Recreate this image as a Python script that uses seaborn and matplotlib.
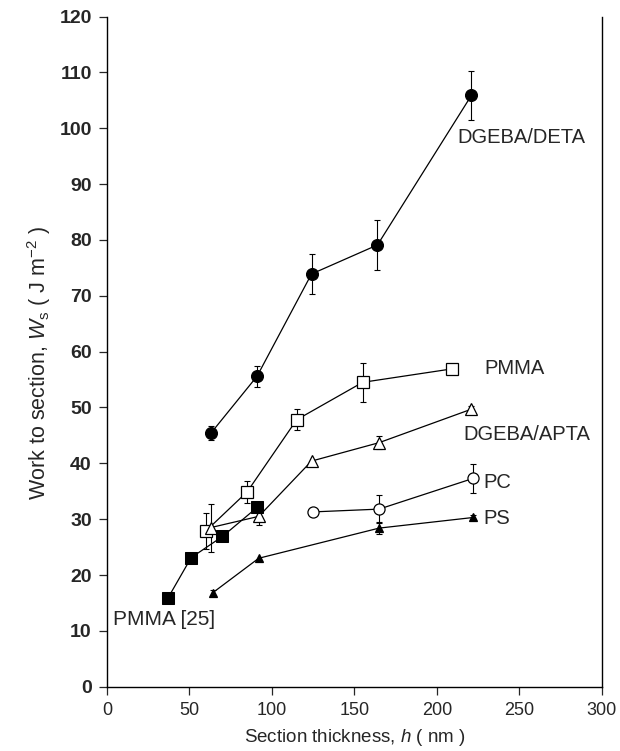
import matplotlib
matplotlib.use("Agg")
import matplotlib.pyplot as plt
import seaborn as sns
import numpy as np

# DGEBA/DETA (filled circles)
deta_x = [63, 91, 124, 164, 221]
deta_y = [45.4, 55.6, 73.9, 79.1, 105.9]
deta_err = [1.3, 1.85, 3.6, 4.5, 4.4]

# PMMA (open squares)
pmma_x = [60, 85, 115, 155, 209]
pmma_y = [27.9, 34.9, 47.8, 54.5, 56.9]
pmma_err = [3.2, 2.0, 1.9, 3.55, 0.0]

# DGEBA/APTA (open triangles)
apta_x = [63, 92, 124, 165, 221]
apta_y = [28.5, 30.5, 40.4, 43.7, 49.7]
apta_err = [4.3, 1.6, 0.0, 1.2, 0.6]

# PC (open circles)
pc_x = [125, 165, 222]
pc_y = [31.3, 31.8, 37.3]
pc_err = [0.0, 2.55, 2.65]

# PS (filled triangles)
ps_x = [64, 92, 165, 222]
ps_y = [16.8, 23.0, 28.4, 30.3]
ps_err = [0.5, 0.0, 1.1, 0.4]

# PMMA [25] (filled squares)
pmma25_x = [37, 51, 70, 91]
pmma25_y = [15.9, 23.1, 26.9, 32.1]

x_ticks = [0, 50, 100, 150, 200, 250, 300]
y_ticks = [0, 10, 20, 30, 40, 50, 60, 70, 80, 90, 100, 110, 120]

sns.set_style("ticks")
plt.rcParams['font.family'] = ['Liberation Sans', 'DejaVu Sans']
plt.rcParams['mathtext.fontset'] = 'custom'
plt.rcParams['mathtext.rm'] = 'Liberation Sans'
plt.rcParams['mathtext.it'] = 'Liberation Sans:italic'

fig = plt.figure(figsize=(6.2, 7.51), dpi=100)
ax = fig.add_axes([0.1726, 0.0856, 0.798, 0.8924])

series = [
    (deta_x, deta_y, deta_err, 'o', 'black', 8.5),
    (pmma_x, pmma_y, pmma_err, 's', 'white', 8),
    (apta_x, apta_y, apta_err, '^', 'white', 8),
    (pc_x, pc_y, pc_err, 'o', 'white', 8),
    (ps_x, ps_y, ps_err, '^', 'black', 6),
]
for xs, ys, errs, mk, fc, ms in series:
    e = np.array(errs)
    m = e > 0
    ax.errorbar(np.array(xs)[m], np.array(ys)[m], yerr=e[m], fmt='none',
                ecolor='black', elinewidth=0.8, capsize=2.3, capthick=0.8, zorder=2)
    sns.lineplot(x=xs, y=ys, ax=ax, color='black', lw=0.9, marker=mk,
                 markersize=ms, markerfacecolor=fc, markeredgecolor='black',
                 markeredgewidth=0.9, zorder=3)

sns.lineplot(x=pmma25_x, y=pmma25_y, ax=ax, color='black', lw=0.9, marker='s',
             markersize=8, markerfacecolor='black', markeredgecolor='black', zorder=3)

fs = 14.5
ax.text(212.7, 98.4, 'DGEBA/DETA', fontsize=fs, va='center', ha='left')
ax.text(229, 57.0, 'PMMA', fontsize=fs, va='center', ha='left')
ax.text(215.8, 45.1, 'DGEBA/APTA', fontsize=fs, va='center', ha='left')
ax.text(228, 36.6, 'PC', fontsize=fs, va='center', ha='left')
ax.text(228, 30.2, 'PS', fontsize=fs, va='center', ha='left')
ax.text(3.6, 12.1, 'PMMA [25]', fontsize=15, va='center', ha='left')

ax.set_xlim(0, 300)
ax.set_ylim(0, 120)
ax.set_xticks(x_ticks)
ax.set_yticks(y_ticks)
ax.tick_params(axis='both', direction='out', length=6, width=0.9, pad=5)
ax.tick_params(axis='x', labelsize=13)
ax.tick_params(axis='y', labelsize=14)
for lab in ax.get_yticklabels():
    lab.set_fontweight('bold')
for s in ['left', 'bottom', 'right']:
    ax.spines[s].set_linewidth(1.0)
    ax.spines[s].set_color('black')
ax.spines['top'].set_visible(False)

ax.set_xlabel('Section thickness, $h$ ( nm )', fontsize=13.5, labelpad=6)
ax.set_ylabel('Work to section, $W_\\mathrm{s}$ ( J m$^{-2}$ )', fontsize=15.5)
ax.yaxis.set_label_coords(-0.11, 0.483)

fig.savefig('out.png', dpi=100)
